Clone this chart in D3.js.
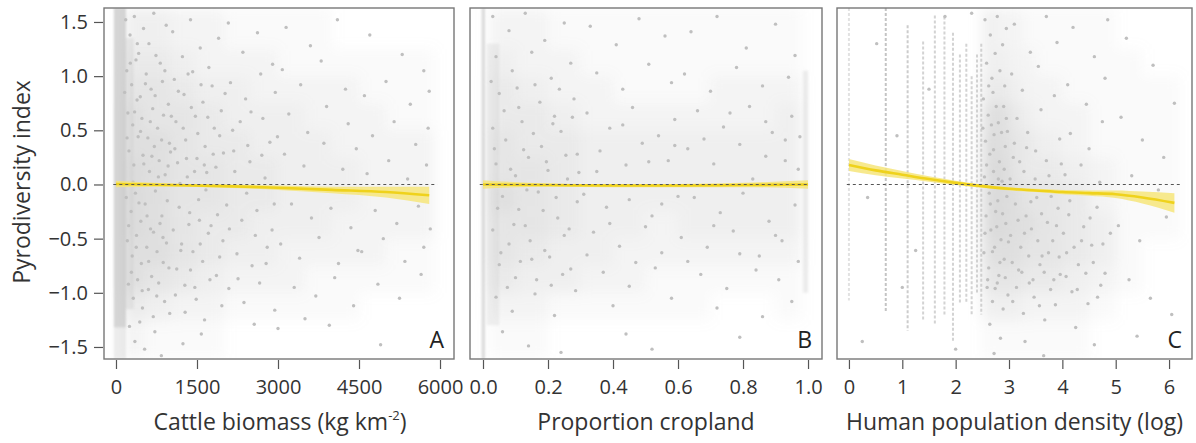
<!DOCTYPE html>
<html>
<head>
<meta charset="utf-8">
<script src="https://cdn.jsdelivr.net/npm/d3@7"></script>
<style>
  html, body { margin: 0; padding: 0; background: #fff; }
  svg { display: block; font-family: "Open Sans", "Noto Sans", sans-serif; }
</style>
</head>
<body>
<svg id="chart" width="1196" height="443"></svg>
<script>
/* ── Shared y axis ── */
const Y_TICKS  = [-1.5, -1.0, -0.5, 0.0, 0.5, 1.0, 1.5];
const Y_LABELS = ['\u22121.5', '\u22121.0', '\u22120.5', '0.0', '0.5', '1.0', '1.5'];
const Y_EDGES  = [1.63, 1.25, 1.0, 0.75, 0.5, 0.25, 0, -0.25, -0.5, -0.75, -1.0, -1.25, -1.61];

/* ── Panel A: cattle biomass ── */
const A_TICKS   = [0, 1500, 3000, 4500, 6000];
const A_X_EDGES = [150, 500, 1000, 1500, 2000, 2500, 3000, 3500, 4000, 4500, 5000, 5500, 5900];
const A_DENSITY = [
  [3, 3, 2, 2, 1, 1, 1, 1, 0, 0, 0, 0],
  [4, 4, 3, 2, 2, 2, 1, 1, 1, 1, 1, 1],
  [5, 5, 4, 3, 3, 2, 2, 2, 2, 1, 1, 1],
  [6, 5, 5, 4, 3, 3, 3, 2, 2, 2, 1, 1],
  [6, 6, 5, 4, 4, 3, 3, 3, 2, 2, 2, 2],
  [7, 6, 5, 5, 4, 4, 3, 3, 3, 2, 2, 2],
  [7, 6, 5, 5, 4, 4, 3, 3, 3, 2, 2, 2],
  [7, 6, 5, 4, 4, 3, 3, 3, 2, 2, 2, 2],
  [6, 6, 5, 4, 3, 3, 2, 2, 2, 2, 1, 1],
  [6, 5, 4, 3, 2, 2, 2, 1, 1, 1, 1, 1],
  [4, 3, 2, 2, 1, 1, 1, 1, 1, 0, 0, 0],
  [2, 1, 1, 1, 0, 0, 0, 0, 0, 0, 0, 0]
];
// [x0, x1, y0, y1, density]
const A_STRIPS = [[-40, 185, -1.32, 1.63, 9], [-40, 185, -1.61, -1.32, 4], [185, 330, -1.15, 1.35, 4]];
const A_POINTS = [
  [180,1.52],[260,1.38],[340,1.55],[420,1.21],[510,1.44],[610,1.30],[700,1.58],[820,1.12],[930,1.47],
  [200,1.05],[290,0.92],[370,1.15],[450,0.81],[560,1.02],[650,0.88],[740,1.19],[860,0.95],[970,0.74],
  [220,0.66],[310,0.55],[390,0.78],[480,0.61],[590,0.43],[680,0.70],[770,0.52],[880,0.64],[990,0.38],
  [240,0.31],[330,0.18],[410,0.44],[500,0.27],[620,0.12],[710,0.35],[800,0.22],[910,0.09],[1010,0.30],
  [190,-0.12],[280,-0.25],[360,-0.08],[460,-0.34],[540,-0.18],[640,-0.41],[730,-0.06],[850,-0.29],[950,-0.15],
  [210,-0.52],[300,-0.66],[380,-0.47],[470,-0.73],[570,-0.58],[660,-0.85],[760,-0.62],[870,-0.49],[980,-0.77],
  [230,-0.92],[320,-1.05],[400,-0.88],[490,-1.14],[600,-0.97],[690,-1.22],[790,-0.91],[900,-1.08],
  [250,-1.31],[350,-1.45],[440,-1.27],[530,-1.52],[720,-1.36],[840,-1.58],
  [160,0.85],[205,0.43],[235,-0.38],[265,1.12],[285,-0.81],[315,0.02],[345,0.67],[375,-0.58],[395,1.30],
  [425,-0.17],[455,0.49],[485,-0.98],[515,0.19],[545,0.93],[575,-0.29],[605,-0.71],[635,0.58],[665,0.26],
  [695,-0.44],[725,0.82],[755,-1.03],[785,0.07],[815,-0.36],[845,0.41],[875,-0.72],[905,1.05],[935,-0.54],
  [965,0.17],[995,-1.19],[1025,0.63],[1060,-0.42],[1090,0.33],[1125,-0.78],[1155,0.86],[1185,0.01],
  [1215,-0.55],[1245,0.52],[1275,-0.93],[1305,0.24],[1335,1.02],[1365,-0.26],[1395,0.71],[1425,-0.62],
  [1455,0.12],[1485,-1.06],[1515,0.47],[1545,-0.33],[1575,0.92],[1605,-0.71],[1635,0.18],[1665,-0.05],
  [1700,0.62],[1760,-0.38],[1800,0.28],[1860,-0.84],[1920,0.45],[1980,-0.52],[2020,0.84],[2100,-0.41],
  [2180,0.31],[2260,-0.87],[2300,0.58],[2420,-0.08],[2500,0.67],[2580,-0.47],[2700,0.27],[2780,-0.73],
  [2850,0.39],[2930,-0.18],
  [1050,1.41],[1230,1.18],[1380,1.52],[1560,1.26],[1720,1.08],[1900,1.35],
  [1080,0.97],[1260,0.83],[1420,1.04],[1610,0.76],[1780,0.91],[1950,0.68],
  [1110,0.58],[1290,0.41],[1470,0.63],[1650,0.35],[1820,0.52],[1990,0.29],
  [1140,0.20],[1320,0.07],[1500,0.24],[1680,0.11],[1850,0.16],
  [1170,-0.21],[1350,-0.37],[1530,-0.14],[1710,-0.45],[1880,-0.28],
  [1200,-0.61],[1380,-0.79],[1560,-0.55],[1740,-0.88],[1920,-0.67],
  [1100,-1.02],[1280,-1.18],[1460,-0.95],[1640,-1.25],[1960,-1.12],
  [1240,-1.47],[1580,-1.38],
  [2080,1.49],[2350,1.22],[2620,1.40],[2900,1.11],
  [2120,0.94],[2400,0.79],[2680,1.02],[2950,0.85],
  [2160,0.50],[2440,0.36],[2720,0.61],[2990,0.44],
  [2200,0.12],[2480,0.21],[2760,0.06],
  [2050,-0.19],[2330,-0.33],[2610,-0.24],[2890,-0.42],
  [2240,-0.64],[2520,-0.75],[2800,-0.58],
  [2090,-0.96],[2370,-1.09],[2660,-0.91],[2940,-1.16],
  [2560,-1.29],[3000,-1.33],
  [3150,1.45],[3600,1.28],[4100,1.52],
  [3080,1.06],[3420,0.92],[3800,1.14],[4250,0.88],
  [3200,0.65],[3550,0.48],[3900,0.72],[4300,0.56],[4450,0.33],
  [3120,0.28],[3480,0.17],[3850,0.38],[4200,0.14],
  [3250,-0.18],[3620,-0.31],[3980,-0.22],[4350,-0.40],
  [3050,-0.55],[3400,-0.68],[3760,-0.49],[4120,-0.73],[4480,-0.61],
  [3300,-0.95],[3700,-1.03],[4050,-0.86],[4400,-1.12],
  [3500,-1.24],[3950,-1.30],
  [4700,1.38],[5300,1.20],[5700,1.05],
  [4600,0.82],[5000,0.95],[5450,0.74],[5800,0.86],
  [4750,0.45],[5150,0.58],[5550,0.37],[5780,0.52],
  [4650,0.10],[5050,0.22],[5400,0.05],[5750,0.18],
  [4800,-0.24],[5200,-0.36],[5600,-0.20],[5820,-0.41],
  [4550,-0.62],[4950,-0.50],[5350,-0.71],[5700,-0.58],
  [4850,-0.92],[5250,-1.05],[5650,-0.83],
  [4900,-1.48]
];
const A_FIT_X  = [0, 1000, 2000, 3000, 4000, 5000, 5800];
const A_FIT    = [0.005, -0.005, -0.015, -0.03, -0.05, -0.07, -0.10];
const A_FIT_HW = [0.03, 0.015, 0.015, 0.02, 0.03, 0.05, 0.08];
const A_ZERO   = [-50, 5950];

/* ── Panel B: proportion cropland ── */
const B_TICKS   = [0, 0.2, 0.4, 0.6, 0.8, 1.0];
const B_X_EDGES = [0.02, 0.1, 0.2, 0.3, 0.4, 0.5, 0.6, 0.7, 0.8, 0.9, 0.98];
const B_DENSITY = [
  [2, 2, 1, 1, 1, 1, 1, 1, 1, 1],
  [3, 2, 2, 1, 1, 1, 1, 1, 1, 1],
  [4, 3, 2, 2, 1, 1, 1, 2, 2, 2],
  [4, 4, 3, 2, 2, 2, 2, 2, 2, 3],
  [5, 4, 4, 3, 3, 3, 3, 3, 3, 3],
  [5, 5, 4, 3, 3, 3, 3, 3, 3, 3],
  [6, 5, 4, 3, 3, 3, 3, 3, 3, 3],
  [5, 5, 4, 3, 3, 2, 3, 3, 3, 3],
  [5, 4, 3, 3, 2, 2, 2, 2, 2, 2],
  [4, 3, 3, 2, 2, 1, 1, 1, 1, 1],
  [2, 2, 1, 1, 1, 1, 1, 0, 0, 1],
  [1, 1, 0, 0, 0, 0, 0, 0, 0, 0]
];
const B_STRIPS = [[-0.004, 0.006, -1.61, 1.63, 8], [0.012, 0.05, -1.3, 1.3, 3], [0.985, 1.0, -1.0, 1.05, 4]];
const B_POINTS = [
  [0.03,1.55],[0.08,1.42],[0.13,1.58],[0.19,1.33],[0.25,1.49],
  [0.04,1.18],[0.09,1.05],[0.15,1.22],[0.21,0.98],[0.27,1.12],
  [0.05,0.84],[0.11,0.71],[0.16,0.92],[0.22,0.63],[0.28,0.79],
  [0.03,0.52],[0.07,0.41],[0.12,0.58],[0.18,0.35],[0.24,0.49],[0.29,0.28],
  [0.04,0.19],[0.10,0.08],[0.14,0.25],[0.20,0.13],[0.26,0.05],
  [0.06,-0.11],[0.11,-0.23],[0.17,-0.07],[0.23,-0.31],[0.29,-0.16],
  [0.03,-0.42],[0.08,-0.55],[0.13,-0.38],[0.19,-0.61],[0.25,-0.47],
  [0.05,-0.74],[0.10,-0.86],[0.15,-0.69],[0.21,-0.93],[0.27,-0.78],
  [0.04,-1.04],[0.09,-1.17],[0.16,-1.01],[0.22,-1.21],
  [0.06,-1.36],[0.14,-1.49],[0.24,-1.55],
  [0.025,0.95],[0.035,0.33],[0.045,-0.22],[0.055,-0.63],[0.065,0.68],[0.075,-0.95],[0.085,0.14],
  [0.095,-0.37],[0.105,0.89],[0.115,-0.71],[0.125,0.32],[0.135,-0.05],[0.145,-0.52],[0.155,0.47],
  [0.165,-0.88],[0.175,0.76],[0.185,-0.24],[0.195,0.21],[0.205,-0.67],[0.215,0.56],[0.225,-0.12],
  [0.235,0.88],[0.245,-0.83],[0.255,0.27],[0.265,-0.41],[0.275,0.62],[0.285,-0.98],[0.295,0.11],
  [0.32,-0.65],[0.35,0.12],[0.39,-0.36],[0.43,0.55],[0.47,-0.72],[0.51,0.21],[0.55,-0.18],[0.59,0.36],
  [0.63,-0.71],[0.68,0.42],[0.71,-0.38],[0.76,0.66],[0.79,-0.64],[0.83,0.05],[0.87,0.58],[0.90,-0.47],
  [0.93,0.22],[0.97,-0.71],[0.975,0.44],
  [0.33,1.46],[0.41,1.29],[0.48,1.53],[0.56,1.37],
  [0.35,1.03],[0.43,0.88],[0.51,1.11],[0.58,0.94],
  [0.32,0.66],[0.39,0.52],[0.46,0.71],[0.54,0.45],[0.59,0.60],
  [0.36,0.31],[0.44,0.18],[0.49,0.38],[0.57,0.22],
  [0.31,-0.09],[0.38,-0.21],[0.45,-0.14],[0.52,-0.29],[0.60,-0.11],
  [0.34,-0.44],[0.42,-0.57],[0.50,-0.39],[0.55,-0.63],
  [0.37,-0.81],[0.45,-0.94],[0.53,-0.77],
  [0.40,-1.12],[0.58,-1.05],[0.44,-1.38],[0.52,-1.52],
  [0.64,1.41],[0.72,1.55],[0.81,1.26],[0.90,1.48],[0.96,1.19],
  [0.62,1.02],[0.70,0.86],[0.78,1.08],[0.86,0.91],[0.94,0.99],
  [0.66,0.68],[0.74,0.53],[0.82,0.72],[0.89,0.48],[0.95,0.63],
  [0.63,0.33],[0.71,0.19],[0.79,0.37],[0.87,0.26],[0.93,0.41],[0.97,0.14],
  [0.65,-0.12],[0.73,-0.26],[0.80,-0.08],[0.88,-0.34],[0.96,-0.19],
  [0.61,-0.49],[0.69,-0.58],[0.77,-0.43],[0.85,-0.66],[0.92,-0.52],
  [0.67,-0.83],[0.75,-0.96],[0.84,-0.79],[0.91,-0.88],
  [0.72,-1.14],[0.86,-1.22],[0.95,-1.08],
  [0.79,-1.41]
];
const B_FIT_X  = [0, 0.2, 0.4, 0.6, 0.8, 1.0];
const B_FIT    = [0.0, -0.005, -0.01, -0.01, -0.005, 0.0];
const B_FIT_HW = [0.04, 0.015, 0.015, 0.015, 0.02, 0.04];
const B_ZERO   = [-0.01, 1.0];

/* ── Panel C: human population density (log) ── */
const C_TICKS   = [0, 1, 2, 3, 4, 5, 6];
const C_X_EDGES = [2.5, 2.75, 3.0, 3.25, 3.5, 4.0, 4.5, 5.0, 5.5, 6.2];
const C_DENSITY = [
  [3, 2, 2, 1, 1, 1, 1, 0, 0],
  [3, 3, 2, 2, 1, 1, 1, 1, 0],
  [4, 4, 3, 2, 2, 1, 1, 1, 1],
  [6, 6, 4, 3, 2, 2, 1, 1, 1],
  [7, 6, 5, 4, 3, 2, 1, 1, 1],
  [7, 7, 5, 4, 4, 3, 2, 1, 1],
  [7, 7, 6, 5, 5, 4, 2, 1, 1],
  [7, 7, 6, 6, 5, 4, 3, 1, 1],
  [6, 6, 6, 5, 5, 4, 3, 1, 0],
  [5, 5, 5, 4, 4, 3, 2, 1, 0],
  [3, 3, 3, 2, 2, 2, 1, 0, 0],
  [1, 1, 1, 1, 1, 1, 0, 0, 0]
];
// discrete columns: [x, yBottom, yTop, density]
const C_COLUMNS = [
  [0.00, -1.07, 1.63, 4], [0.69, -1.17, 1.63, 8], [1.10, -1.35, 1.47, 7], [1.39, -1.26, 1.32, 6],
  [1.61, -1.30, 1.56, 6], [1.79, -1.20, 1.55, 6], [1.95, -1.45, 1.40, 6], [2.08, -1.10, 1.20, 6],
  [2.20, -1.10, 1.30, 6], [2.30, -1.20, 1.00, 6], [2.40, -1.00, 1.20, 6], [2.48, -1.20, 1.30, 6]
];
const C_POINTS = [
  [0.35,-0.12],[0.90,0.45],[0.52,1.30],[1.25,-0.61],[1.50,0.88],[0.25,-1.45],[2.00,-1.52],[1.80,1.55],[1.00,-0.95],[2.30,1.58],
  [2.55,1.52],[2.65,1.38],[2.78,1.55],[2.88,1.29],[2.95,1.44],
  [2.58,1.12],[2.68,0.98],[2.74,1.21],[2.83,1.05],[2.92,0.91],
  [2.52,0.79],[2.61,0.64],[2.70,0.85],[2.80,0.57],[2.90,0.72],[2.97,0.49],
  [2.56,0.40],[2.64,0.28],[2.72,0.46],[2.82,0.21],[2.93,0.35],
  [2.54,0.07],[2.63,-0.08],[2.71,0.12],[2.79,-0.15],[2.87,0.03],[2.96,-0.11],
  [2.57,-0.29],[2.66,-0.42],[2.75,-0.25],[2.85,-0.51],[2.94,-0.36],
  [2.53,-0.63],[2.62,-0.77],[2.73,-0.58],[2.81,-0.84],[2.91,-0.69],
  [2.59,-0.95],[2.69,-1.08],[2.78,-0.91],[2.89,-1.15],[2.98,-1.02],
  [2.64,-1.29],[2.84,-1.42],[2.72,-1.56],
  [2.51,0.52],[2.55,-0.45],[2.58,0.18],[2.60,-0.88],[2.62,0.91],[2.65,-0.18],[2.67,0.55],[2.69,-0.62],
  [2.71,0.32],[2.74,-0.96],[2.76,0.72],[2.77,-0.39],[2.80,0.05],[2.83,-0.72],[2.86,0.48],[2.88,-0.27],
  [2.91,0.14],[2.93,-0.86],[2.95,0.61],[2.99,-0.53],[3.02,0.05],[3.06,-0.72],[3.10,0.38],[3.14,-0.95],
  [3.17,-0.33],[3.20,0.21],[3.24,-0.81],[3.29,-0.45],[3.33,0.34],[3.37,-0.66],[3.41,-0.16],[3.45,-0.88],
  [3.49,0.05],[3.54,-0.52],[3.57,-1.12],[3.61,-0.27],[3.66,-0.81],[3.70,0.22],[3.74,-0.63],[3.79,-0.11],
  [3.84,-0.88],[3.89,-0.38],[3.94,-0.67],[4.02,-0.45],[4.07,-0.85],[4.14,-0.15],[4.22,-0.58],[4.28,-0.97],
  [4.36,-0.52],[4.44,-0.82],[4.52,-0.31],[4.58,-0.72],[4.66,-1.04],[4.76,-0.55],
  [3.10,1.48],[3.40,1.22],[3.70,1.55],[3.90,1.31],
  [3.05,1.02],[3.25,0.87],[3.55,1.09],[3.85,0.82],
  [3.15,0.61],[3.35,0.48],[3.60,0.69],[3.95,0.42],
  [3.08,0.25],[3.28,0.12],[3.50,0.31],[3.75,0.08],[3.98,0.19],
  [3.12,-0.18],[3.32,-0.29],[3.52,-0.12],[3.72,-0.35],[3.92,-0.22],
  [3.03,-0.47],[3.22,-0.58],[3.42,-0.41],[3.62,-0.66],[3.82,-0.52],
  [3.18,-0.79],[3.38,-0.91],[3.58,-0.74],[3.78,-0.97],[3.96,-0.83],
  [3.07,-1.08],[3.27,-1.19],[3.47,-1.04],[3.67,-1.25],[3.87,-1.11],
  [3.30,-1.45],[3.65,-1.58],
  [4.20,1.45],[4.60,1.18],[4.85,1.52],
  [4.10,0.92],[4.45,0.74],[4.80,0.98],
  [4.15,0.47],[4.50,0.33],[4.75,0.58],
  [4.05,0.09],[4.35,0.18],[4.70,0.02],
  [4.12,-0.28],[4.40,-0.39],[4.65,-0.21],[4.90,-0.45],
  [4.08,-0.63],[4.30,-0.74],[4.55,-0.56],[4.80,-0.82],
  [4.18,-0.99],[4.48,-1.10],[4.72,-0.93],
  [4.25,-1.32],[4.60,-1.48],
  [5.20,1.35],[5.70,1.10],[6.10,0.75],
  [5.10,0.62],[5.50,0.41],[5.90,0.25],
  [5.30,0.08],[5.80,-0.05],
  [5.05,-0.38],[5.45,-0.52],[5.95,-0.30],
  [5.25,-0.88],[5.65,-1.05],[6.05,-1.20],
  [5.40,-1.40]
];
const C_FIT_X  = [0, 0.5, 1, 1.5, 2, 2.5, 3, 3.5, 4, 4.5, 5, 5.5, 6.1];
const C_FIT    = [0.18, 0.13, 0.09, 0.05, 0.015, -0.015, -0.04, -0.055, -0.07, -0.08, -0.09, -0.12, -0.17];
const C_FIT_HW = [0.055, 0.045, 0.035, 0.025, 0.02, 0.015, 0.015, 0.015, 0.02, 0.025, 0.035, 0.055, 0.09];
const C_ZERO   = [-0.04, 6.2];

/* ── Layout ── */
const TOP = 8, BOTTOM = 359;
const GREY  = '#bdbdbd';
const TEXT  = '#333333';
const FRAME = '#777777';
const FONT  = '"Open Sans", "Noto Sans", sans-serif';

const svg = d3.select('#chart');
const defs = svg.append('defs');
defs.append('filter').attr('id', 'soft')
  .attr('x', '-20%').attr('y', '-20%').attr('width', '140%').attr('height', '140%')
  .append('feGaussianBlur').attr('stdDeviation', 7);
defs.append('filter').attr('id', 'edge')
  .attr('x', '-50%').attr('y', '-5%').attr('width', '200%').attr('height', '110%')
  .append('feGaussianBlur').attr('stdDeviation', 1.2);

const y = d3.scaleLinear().domain([-1.611, 1.629]).range([BOTTOM, TOP]);

const panels = [
  { id: 'A', range: [104, 454], domain: [-222, 6259], ticks: A_TICKS, fmt: d3.format('d'),
    xEdges: A_X_EDGES, density: A_DENSITY, strips: A_STRIPS, columns: [], points: A_POINTS,
    fitX: A_FIT_X, fit: A_FIT, fitHW: A_FIT_HW, zero: A_ZERO,
    title: ['Cattle biomass (kg km', '-2', ')'], yAxis: true },
  { id: 'B', range: [470, 822], domain: [-0.04, 1.043], ticks: B_TICKS, fmt: d3.format('.1f'),
    xEdges: B_X_EDGES, density: B_DENSITY, strips: B_STRIPS, columns: [], points: B_POINTS,
    fitX: B_FIT_X, fit: B_FIT, fitHW: B_FIT_HW, zero: B_ZERO,
    title: ['Proportion cropland'], yAxis: false },
  { id: 'C', range: [837, 1192], domain: [-0.224, 6.43], ticks: C_TICKS, fmt: d3.format('d'),
    xEdges: C_X_EDGES, density: C_DENSITY, strips: [], columns: C_COLUMNS, points: C_POINTS,
    fitX: C_FIT_X, fit: C_FIT, fitHW: C_FIT_HW, zero: C_ZERO,
    title: ['Human population density (log)'], yAxis: false }
];

panels.forEach(p => {
  const x = d3.scaleLinear().domain(p.domain).range(p.range);
  const g = svg.append('g');

  const clipId = 'clip' + p.id;
  defs.append('clipPath').attr('id', clipId)
    .append('rect')
    .attr('x', p.range[0]).attr('y', TOP)
    .attr('width', p.range[1] - p.range[0]).attr('height', BOTTOM - TOP);

  const plot = g.append('g').attr('clip-path', `url(#${clipId})`);

  /* ── Density tone (blurred cells) ── */
  const cells = [];
  p.density.forEach((row, i) => row.forEach((v, j) => {
    cells.push({ x0: p.xEdges[j], x1: p.xEdges[j + 1], y0: Y_EDGES[i + 1], y1: Y_EDGES[i], v });
  }));
  plot.append('g').attr('filter', 'url(#soft)')
    .selectAll('rect').data(cells).join('rect')
    .attr('x', d => x(d.x0)).attr('y', d => y(d.y1))
    .attr('width', d => x(d.x1) - x(d.x0)).attr('height', d => y(d.y0) - y(d.y1))
    .attr('fill', GREY).attr('fill-opacity', d => d.v * 0.08);

  /* ── Dense strips ── */
  plot.append('g').attr('filter', 'url(#edge)')
    .selectAll('.strip').data(p.strips).join('rect')
    .attr('class', 'strip')
    .attr('x', d => x(d[0])).attr('width', d => Math.max(2, x(d[1]) - x(d[0])))
    .attr('y', d => y(d[3])).attr('height', d => y(d[2]) - y(d[3]))
    .attr('fill', GREY).attr('fill-opacity', d => d[4] / 9 * 0.62);

  /* ── Discrete columns (dotted) ── */
  plot.selectAll('.col').data(p.columns).join('line')
    .attr('class', 'col')
    .attr('x1', d => x(d[0])).attr('x2', d => x(d[0]))
    .attr('y1', d => y(d[2])).attr('y2', d => y(d[1]))
    .attr('stroke', GREY).attr('stroke-width', 2)
    .attr('stroke-dasharray', '3,2')
    .attr('stroke-opacity', d => d[3] / 9);

  /* ── Points ── */
  plot.selectAll('.pt').data(p.points).join('circle')
    .attr('class', 'pt')
    .attr('cx', d => x(d[0])).attr('cy', d => y(d[1]))
    .attr('r', 1.7).attr('fill', '#bfbfbf');

  /* ── Fit band + line ── */
  const fitData = p.fitX.map((fx, i) => ({ x: fx, f: p.fit[i], hw: p.fitHW[i] }));
  plot.append('path').datum(fitData)
    .attr('d', d3.area().curve(d3.curveMonotoneX)
      .x(d => x(d.x)).y0(d => y(d.f - d.hw)).y1(d => y(d.f + d.hw)))
    .attr('fill', '#f6e57a').attr('fill-opacity', 0.85);
  plot.append('path').datum(fitData)
    .attr('d', d3.line().curve(d3.curveMonotoneX).x(d => x(d.x)).y(d => y(d.f)))
    .attr('fill', 'none').attr('stroke', '#efd21c').attr('stroke-width', 2.6);

  /* ── Zero reference line ── */
  g.append('line')
    .attr('x1', x(p.zero[0])).attr('x2', x(p.zero[1]))
    .attr('y1', y(0)).attr('y2', y(0))
    .attr('stroke', '#555').attr('stroke-width', 1.2)
    .attr('stroke-dasharray', '3,3');

  /* ── Frame ── */
  g.append('rect')
    .attr('x', p.range[0]).attr('y', TOP)
    .attr('width', p.range[1] - p.range[0]).attr('height', BOTTOM - TOP)
    .attr('fill', 'none').attr('stroke', FRAME).attr('stroke-width', 1.4);

  /* ── X axis ── */
  g.append('g')
    .attr('transform', `translate(0, ${BOTTOM + 1})`)
    .call(d3.axisBottom(x).tickValues(p.ticks).tickFormat(p.fmt).tickSize(9).tickPadding(11))
    .call(ax => ax.select('.domain').remove())
    .call(ax => ax.selectAll('.tick line').attr('stroke', '#555').attr('stroke-width', 1.2))
    .call(ax => ax.selectAll('.tick text')
      .attr('fill', TEXT).attr('font-size', 20).attr('font-family', FONT));

  /* ── Y axis (first panel only) ── */
  if (p.yAxis) {
    g.append('g')
      .attr('transform', `translate(${p.range[0] - 1}, 0)`)
      .call(d3.axisLeft(y).tickValues(Y_TICKS).tickFormat((d, i) => Y_LABELS[i]).tickSize(9).tickPadding(6))
      .call(ax => ax.select('.domain').remove())
      .call(ax => ax.selectAll('.tick line').attr('stroke', '#555').attr('stroke-width', 1.2))
      .call(ax => ax.selectAll('.tick text')
        .attr('fill', TEXT).attr('font-size', 20).attr('font-family', FONT));
  }

  /* ── Panel letter ── */
  g.append('text')
    .attr('x', p.range[1] - 10).attr('y', BOTTOM - 11)
    .attr('text-anchor', 'end')
    .attr('font-size', 23).attr('fill', '#222')
    .text(p.id);

  /* ── Axis title ── */
  const t = g.append('text')
    .attr('x', (p.range[0] + p.range[1]) / 2 + (p.id === 'A' ? 1 : 0))
    .attr('y', 430)
    .attr('text-anchor', 'middle')
    .attr('font-size', 23).attr('fill', TEXT);
  t.append('tspan').text(p.title[0]);
  if (p.title.length > 1) {
    t.append('tspan').attr('dy', -10).attr('font-size', 13).text(p.title[1]);
    t.append('tspan').attr('dy', 10).text(p.title[2]);
  }
});

/* ── Y axis title ── */
svg.append('text')
  .attr('transform', `translate(30, 182) rotate(-90)`)
  .attr('text-anchor', 'middle')
  .attr('font-size', 23).attr('fill', TEXT)
  .text('Pyrodiversity index');
</script>
</body>
</html>
